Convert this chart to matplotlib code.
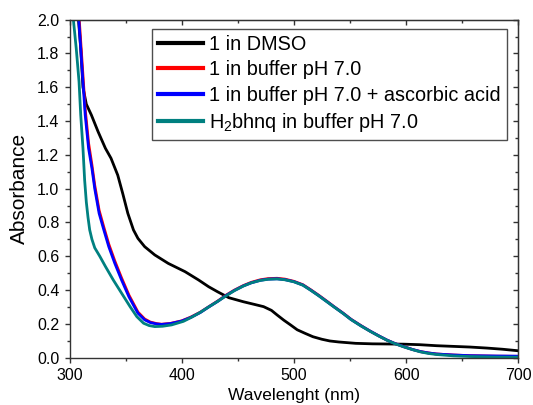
import matplotlib
matplotlib.use("Agg")
import matplotlib.pyplot as plt
from matplotlib.ticker import MultipleLocator, FormatStrFormatter

plt.rcParams['font.family'] = ['Liberation Sans', 'DejaVu Sans']
plt.rcParams['mathtext.fontset'] = 'custom'
plt.rcParams['mathtext.rm'] = 'Liberation Sans'
plt.rcParams['mathtext.it'] = 'Liberation Sans:italic'
plt.rcParams['mathtext.bf'] = 'Liberation Sans:bold'

labels = ["1 in DMSO", "1 in buffer pH 7.0",
          "1 in buffer pH 7.0 + ascorbic acid", r"H$_{\rm 2}$bhnq in buffer pH 7.0"]
colors = ["#000000", "#ff0000", "#0000ff", "#008080"]

wl_dmso = [300, 304, 308, 310, 312, 315, 319.5, 325.5, 332, 337, 343, 347.5, 352, 357, 361, 367,
           376, 388, 403, 415, 424, 432, 442, 455, 465, 473, 480, 485, 491, 497, 503, 510,
           517, 525, 532, 540, 555, 570, 585, 598, 612, 627, 642, 657, 672, 686, 700]
abs_dmso = [2.6, 2.25, 2.0, 1.83, 1.6, 1.5, 1.436, 1.337, 1.239, 1.18, 1.08, 0.97, 0.854,
            0.756, 0.706, 0.657, 0.608, 0.558, 0.509, 0.46, 0.42, 0.39, 0.355, 0.331, 0.315,
            0.302, 0.28, 0.253, 0.222, 0.194, 0.165, 0.144, 0.124, 0.109, 0.099, 0.093, 0.085,
            0.082, 0.081, 0.080, 0.077, 0.071, 0.067, 0.063, 0.057, 0.050, 0.041]

wl_buf = [300, 305, 308, 310, 312, 314, 317, 320, 322.5, 326.4, 330.6, 335, 340.4, 346.4,
          353, 361, 367, 372, 377.5, 382, 390, 400, 408, 416.5, 424, 432, 440, 447, 455, 462,
          470, 477, 485, 492, 500, 508, 515, 522, 529, 536, 544, 551, 560, 568, 576, 583, 590,
          598, 606, 613, 620, 627, 642, 657, 680, 700]
abs_red = [3.0, 2.45, 2.07, 1.87, 1.67, 1.47, 1.27, 1.14, 1.02, 0.872, 0.772, 0.672, 0.572,
           0.472, 0.37, 0.27, 0.229, 0.211, 0.202, 0.198, 0.203, 0.218, 0.24, 0.269, 0.301,
           0.335, 0.372, 0.4, 0.427, 0.446, 0.461, 0.468, 0.47, 0.465, 0.452, 0.432, 0.402,
           0.37, 0.336, 0.301, 0.263, 0.227, 0.189, 0.157, 0.128, 0.104, 0.084, 0.065, 0.048,
           0.036, 0.028, 0.022, 0.016, 0.012, 0.009, 0.008]
abs_blue = [3.0, 2.4, 2.03, 1.83, 1.633, 1.436, 1.239, 1.12, 1.0, 0.854, 0.756, 0.657,
            0.558, 0.46, 0.36, 0.263, 0.224, 0.208, 0.2, 0.197, 0.202, 0.217, 0.238, 0.267,
            0.3, 0.333, 0.37, 0.398, 0.425, 0.443, 0.458, 0.465, 0.467, 0.462, 0.45, 0.43,
            0.4, 0.368, 0.334, 0.3, 0.262, 0.226, 0.188, 0.157, 0.128, 0.104, 0.084, 0.065,
            0.048, 0.036, 0.028, 0.022, 0.016, 0.012, 0.010, 0.009]

wl_h2 = [300, 303, 306, 308.5, 310, 312, 313.5, 315, 316.5, 318, 320, 322.5, 327, 332, 339,
         346.4, 354, 360, 366, 371, 376, 383, 391, 401.5, 409, 417, 424, 432, 440, 447, 455,
         462, 470, 477, 485, 492, 500, 508, 515, 522, 529, 536, 544, 551, 560, 568, 576, 583,
         590, 598, 606, 613, 620, 627, 642, 657, 680, 700]
abs_h2 = [2.2, 2.03, 1.83, 1.633, 1.436, 1.239, 1.05, 0.92, 0.83, 0.756, 0.7, 0.65, 0.6, 0.54,
          0.46, 0.382, 0.302, 0.243, 0.204, 0.19, 0.184, 0.186, 0.194, 0.215, 0.24, 0.27, 0.3,
          0.333, 0.368, 0.397, 0.424, 0.443, 0.457, 0.464, 0.466, 0.461, 0.449, 0.429, 0.399,
          0.367, 0.333, 0.299, 0.261, 0.225, 0.187, 0.156, 0.127, 0.103, 0.083, 0.064, 0.047,
          0.034, 0.025, 0.019, 0.011, 0.007, 0.004, 0.003]

xticks = [300, 400, 500, 600, 700]
yticks = [0.0, 0.2, 0.4, 0.6, 0.8, 1.0, 1.2, 1.4, 1.6, 1.8, 2.0]

fig = plt.figure(figsize=(5.33, 4.05), dpi=100)
ax = fig.add_axes([0.1304, 0.1168, 0.8420, 0.8346])

series = [(wl_dmso, abs_dmso), (wl_buf, abs_red), (wl_buf, abs_blue), (wl_h2, abs_h2)]
for (x, y), c, lab in zip(series, colors, labels):
    ax.plot(x, y, color=c, lw=2.0, label=lab, solid_joinstyle='round')

ax.set_xlim(300, 700)
ax.set_ylim(0, 2.0)
ax.set_xticks(xticks)
ax.set_yticks(yticks)
ax.xaxis.set_minor_locator(MultipleLocator(50))
ax.yaxis.set_minor_locator(MultipleLocator(0.1))
ax.yaxis.set_major_formatter(FormatStrFormatter('%.1f'))
ax.tick_params(which='both', direction='out', labelsize=11.5, width=1.0, color='#333333')
ax.tick_params(which='major', length=3.8)
ax.tick_params(which='minor', length=2.3)
for s in ax.spines.values():
    s.set_linewidth(1.0)
    s.set_color('#333333')

secx = ax.secondary_xaxis('top')
secx.set_xticks(xticks)
secx.xaxis.set_minor_locator(MultipleLocator(50))
secx.tick_params(which='both', direction='in', labeltop=False, width=1.0, color='#333333')
secx.tick_params(which='major', length=3.8)
secx.tick_params(which='minor', length=2.3)
secy = ax.secondary_yaxis('right')
secy.set_yticks(yticks)
secy.yaxis.set_minor_locator(MultipleLocator(0.1))
secy.tick_params(which='both', direction='in', labelright=False, width=1.0, color='#333333')
secy.tick_params(which='major', length=3.8)
secy.tick_params(which='minor', length=2.3)

ax.set_xlabel("Wavelenght (nm)", fontsize=12.5, labelpad=4)
ax.set_ylabel("Absorbance", fontsize=15, labelpad=6)

leg = ax.legend(loc='upper left', bbox_to_anchor=(0.184, 0.9725), borderaxespad=0,
                fontsize=14.3, frameon=True, fancybox=False, handlelength=2.25,
                handletextpad=0.33, borderpad=0.3, labelspacing=0.32)
leg.get_frame().set_edgecolor('#222222')
leg.get_frame().set_linewidth(1.0)
for h in leg.get_lines():
    h.set_linewidth(3.0)

fig.savefig("out.png", dpi=100)
